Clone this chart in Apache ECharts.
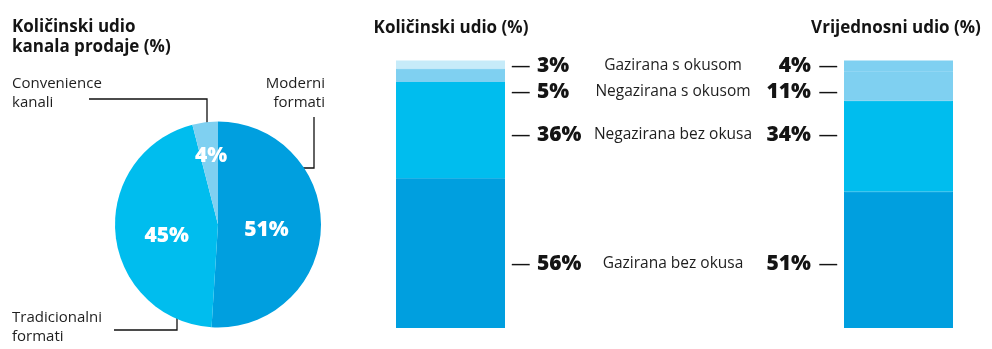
<!DOCTYPE html>
<html>
<head>
<meta charset="utf-8">
<script src="https://cdn.jsdelivr.net/npm/echarts@6/dist/echarts.min.js"></script>
<style>
  html, body { margin: 0; padding: 0; background: #ffffff; }
  #chart { width: 992px; height: 349px; }
</style>
</head>
<body>
<div id="chart"></div>
<script>
// ---- data ----
const pieTitle = 'Količinski udio\nkanala prodaje (%)';
const pieCategories = ['Moderni formati', 'Tradicionalni formati', 'Convenience kanali'];
const pieValues = [51, 45, 4];

// stacked bars, listed bottom to top
const barCategories = ['Gazirana bez okusa', 'Negazirana bez okusa', 'Negazirana s okusom', 'Gazirana s okusom'];
const volumeTitle = 'Količinski udio (%)';
const volumeShare = [56, 36, 5, 3];
const valueTitle = 'Vrijednosni udio (%)';
const valueShare = [51, 34, 11, 4];

// ---- styles / layout ----
const FONT = '"Open Sans", "Noto Sans", sans-serif';
const INK = '#141414';
const pieColors = ['#009fdf', '#00bdee', '#7fd0f1'];
const volColors = ['#009fdf', '#00bdee', '#7fd0f1', '#c6ebf9'];
const valColors = ['#009fdf', '#00bdee', '#7fd0f1', '#7fd0f1'];
const labelRowsY = [264, 135, 92, 66];      // label rows, bottom to top
const pieLabelNudge = [[-6, 4], [3, 6], [0, -14]];

const chart = echarts.init(document.getElementById('chart'), null, { renderer: 'canvas' });

const grid = [
  { left: 396, top: 60.5, width: 109, height: 267.5 },
  { left: 844, top: 60.5, width: 109, height: 267.5 }
];
const xAxis = [0, 1].map(i => ({ type: 'category', gridIndex: i, data: [i === 0 ? volumeTitle : valueTitle], show: false }));
const yAxis = [0, 1].map(i => ({ type: 'value', gridIndex: i, min: 0, max: 100, show: false }));

function rowLayout(k) {
  return function (params) {
    const r = params.labelRect;
    return { dy: labelRowsY[k] - (r.y + r.height / 2) };
  };
}

const series = [];
series.push({
  type: 'pie',
  center: [218, 224.5],
  radius: 103,
  startAngle: 90,
  clockwise: true,
  silent: true,
  data: pieCategories.map((n, i) => ({ name: n, value: pieValues[i], itemStyle: { color: pieColors[i] } })),
  label: {
    show: true,
    position: 'inside',
    formatter: '{c}%',
    color: '#ffffff',
    fontFamily: FONT,
    fontWeight: 800,
    fontSize: 21
  },
  labelLine: { show: false },
  labelLayout: function (p) {
    const d = pieLabelNudge[p.dataIndex];
    return { dx: d[0], dy: d[1] };
  }
});

barCategories.forEach((name, k) => {
  series.push({
    type: 'bar',
    xAxisIndex: 0, yAxisIndex: 0,
    stack: 'volume',
    name: name,
    barWidth: '100%',
    silent: true,
    data: [volumeShare[k]],
    itemStyle: { color: volColors[k], borderColor: volColors[k], borderWidth: 1.2 },
    label: {
      show: true,
      position: 'right',
      distance: 6,
      formatter: () => '{d|—}{v|' + volumeShare[k] + '%}{n|' + name + '}',
      rich: {
        d: { fontFamily: FONT, fontSize: 19.5, color: INK, width: 26, align: 'left', verticalAlign: 'middle' },
        v: { fontFamily: FONT, fontSize: 21, fontWeight: 800, color: INK, width: 56, align: 'left', verticalAlign: 'middle' },
        n: { fontFamily: FONT, fontSize: 15.5, color: '#1e1e1e', width: 160, align: 'center', verticalAlign: 'middle' }
      }
    },
    labelLayout: rowLayout(k)
  });
});

barCategories.forEach((name, k) => {
  series.push({
    type: 'bar',
    xAxisIndex: 1, yAxisIndex: 1,
    stack: 'value',
    name: name,
    barWidth: '100%',
    silent: true,
    data: [valueShare[k]],
    itemStyle: { color: valColors[k], borderColor: valColors[k], borderWidth: 1.2 },
    label: {
      show: true,
      position: 'left',
      distance: 6,
      formatter: () => '{v|' + valueShare[k] + '%}{d|—}',
      rich: {
        v: { fontFamily: FONT, fontSize: 21, fontWeight: 800, color: INK, width: 50, align: 'right', verticalAlign: 'middle' },
        d: { fontFamily: FONT, fontSize: 19.5, color: INK, width: 27, align: 'right', verticalAlign: 'middle' }
      }
    },
    labelLayout: rowLayout(k)
  });
});

const lineStyle = { stroke: '#111111', lineWidth: 1.3, fill: null };
const nameStyle = { fontFamily: FONT, fontSize: 15, fill: '#1e1e1e', lineHeight: 19 };
const graphic = [
  { type: 'text', style: { x: 12, y: 17, text: pieTitle, fontFamily: FONT, fontSize: 17, fontWeight: 'bold', fill: INK, lineHeight: 20 } },
  { type: 'text', style: { x: 451, y: 28, text: volumeTitle, textAlign: 'center', textVerticalAlign: 'middle', fontFamily: FONT, fontSize: 17, fontWeight: 'bold', fill: INK } },
  { type: 'text', style: { x: 896, y: 28, text: valueTitle, textAlign: 'center', textVerticalAlign: 'middle', fontFamily: FONT, fontSize: 17, fontWeight: 'bold', fill: INK } },
  // pie annotations
  { type: 'text', style: Object.assign({ x: 325, y: 93.5, text: pieCategories[0].replace(' ', '\n'), textAlign: 'right', textVerticalAlign: 'middle' }, nameStyle) },
  { type: 'polyline', shape: { points: [[272, 168], [314, 168], [314, 117]] }, style: lineStyle },
  { type: 'text', style: Object.assign({ x: 12, y: 327, text: pieCategories[1].replace(' ', '\n'), textAlign: 'left', textVerticalAlign: 'middle' }, nameStyle) },
  { type: 'polyline', shape: { points: [[114, 330], [177, 330], [177, 292]] }, style: lineStyle },
  { type: 'text', style: Object.assign({ x: 12, y: 93.5, text: pieCategories[2].replace(' ', '\n'), textAlign: 'left', textVerticalAlign: 'middle' }, nameStyle) },
  { type: 'polyline', shape: { points: [[89, 99], [207, 99], [207, 133]] }, style: lineStyle }
];

chart.setOption({
  animation: false,
  backgroundColor: '#ffffff',
  grid: grid,
  xAxis: xAxis,
  yAxis: yAxis,
  series: series,
  graphic: graphic
});
</script>
</body>
</html>
